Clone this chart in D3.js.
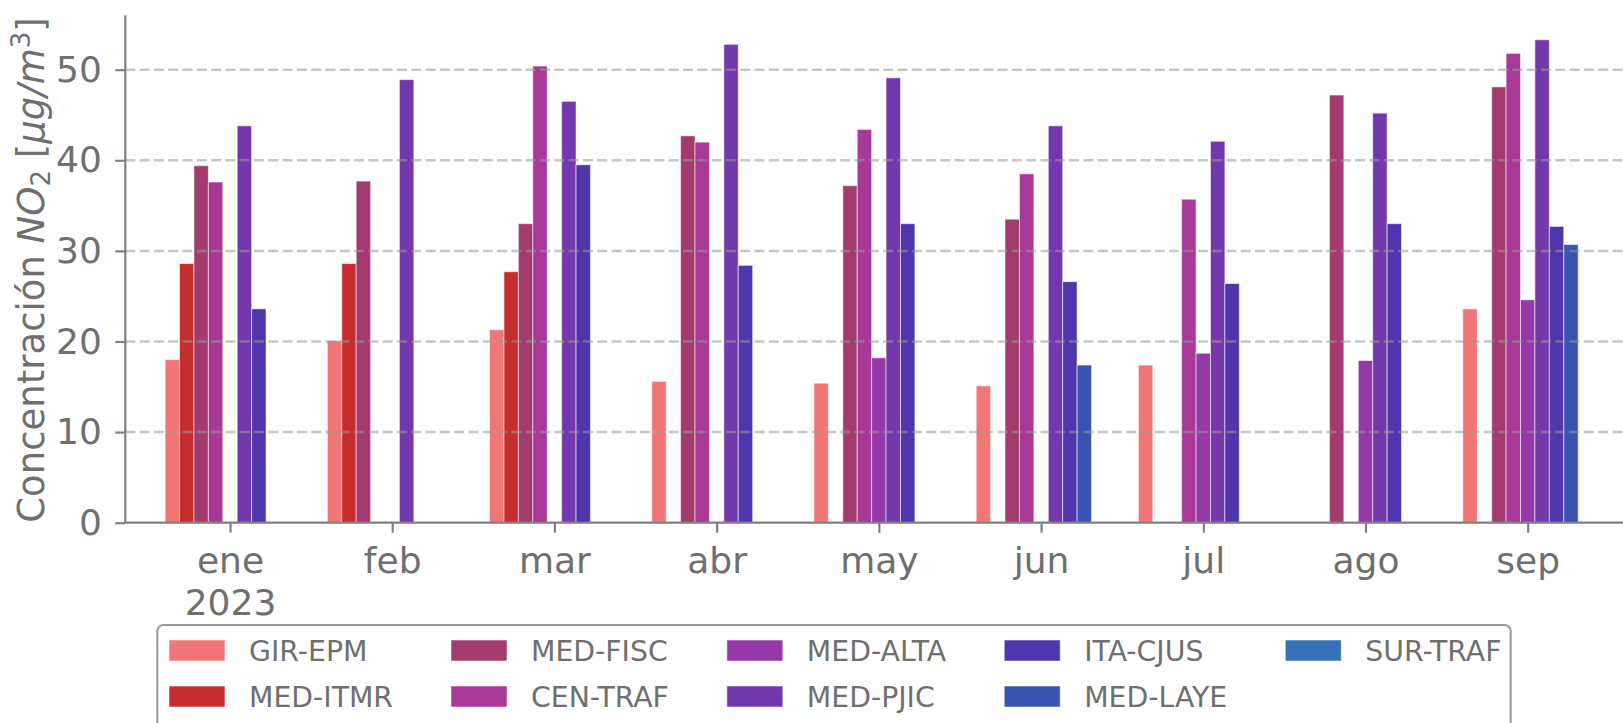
<!DOCTYPE html>
<html>
<head>
<meta charset="utf-8">
<script src="https://cdn.jsdelivr.net/npm/d3@7"></script>
<style>
  html, body { margin: 0; padding: 0; background: #ffffff; }
  svg { display: block; }
  text { font-family: "DejaVu Sans", sans-serif; }
</style>
</head>
<body>
<svg id="chart" width="1623" height="723"></svg>
<script>
// ---- data ----
const months = ["ene", "feb", "mar", "abr", "may", "jun", "jul", "ago", "sep"];
const yearLabel = "2023";
const seriesNames = ["GIR-EPM", "MED-ITMR", "MED-FISC", "CEN-TRAF", "MED-ALTA", "MED-PJIC", "ITA-CJUS", "MED-LAYE", "SUR-TRAF"];
const seriesColors = ["#f37676", "#c62d2e", "#a33b6f", "#a93997", "#9638a8", "#7338ab", "#4f36ac", "#3954b0", "#3471b8"];
const girEpm  = [18.0, 20.1, 21.3, 15.6, 15.4, 15.1, 17.4, null, 23.6];
const medItmr = [28.6, 28.6, 27.7, null, null, null, null, null, null];
const medFisc = [39.4, 37.7, 33.0, 42.7, 37.2, 33.5, null, 47.2, 48.1];
const cenTraf = [37.6, null, 50.4, 42.0, 43.4, 38.5, 35.7, null, 51.8];
const medAlta = [null, null, null, null, 18.2, null, 18.7, 17.9, 24.6];
const medPjic = [43.8, 48.9, 46.5, 52.8, 49.1, 43.8, 42.1, 45.2, 53.3];
const itaCjus = [23.6, null, 39.5, 28.4, 33.0, 26.6, 26.4, 33.0, 32.7];
const medLaye = [null, null, null, null, null, 17.4, null, null, 30.7];
const surTraf = [null, null, null, null, null, null, null, null, null];
const yTicks = [0, 10, 20, 30, 40, 50];
const yMax = 56;

const seriesValues = [girEpm, medItmr, medFisc, cenTraf, medAlta, medPjic, itaCjus, medLaye, surTraf];

// ---- layout ----
const W = 1623, H = 723;
const axisX = 125.3, y0px = 522.7, yTopPx = 15.3;
const firstCenter = 230, lastCenter = 1527.7;
const textColor = "#6f6f6f";
const spineColor = "#808080";

const svg = d3.select("#chart");

const y = d3.scaleLinear().domain([0, yMax]).range([y0px, yTopPx]);
const xMonth = d3.scalePoint().domain(months).range([firstCenter, lastCenter]);
const step = xMonth.step();
const groupW = step * 0.8;
const xSeries = d3.scaleBand().domain(seriesNames).range([-groupW / 2, groupW / 2]).padding(0);

// bars
const barData = [];
seriesNames.forEach((s, si) => {
  seriesValues[si].forEach((v, mi) => {
    if (v !== null && v !== undefined) barData.push({ s, si, m: months[mi], v });
  });
});
svg.append("g").selectAll("rect").data(barData).join("rect")
  .attr("x", d => xMonth(d.m) + xSeries(d.s))
  .attr("y", d => y(d.v))
  .attr("width", xSeries.bandwidth())
  .attr("height", d => y(0) - y(d.v))
  .attr("fill", d => seriesColors[d.si])
  .attr("stroke", "rgba(255,255,255,0.55)")
  .attr("stroke-width", 1);

// gridlines (on top)
svg.append("g").selectAll("line").data(yTicks.filter(t => t > 0)).join("line")
  .attr("x1", axisX).attr("x2", W)
  .attr("y1", d => y(d)).attr("y2", d => y(d))
  .attr("stroke", "#999999").attr("stroke-opacity", 0.55)
  .attr("stroke-width", 2.5).attr("stroke-dasharray", "10,4.3");

// y axis
const yAxis = d3.axisLeft(y).tickValues(yTicks).tickSize(10).tickPadding(13.5).tickFormat(d3.format("d"));
const gy = svg.append("g").attr("transform", `translate(${axisX},0)`).call(yAxis);
gy.select(".domain").remove();
gy.selectAll(".tick line").attr("stroke", spineColor).attr("stroke-width", 2.2);
gy.selectAll(".tick text").attr("fill", textColor).attr("font-size", 36)
  .attr("font-family", "DejaVu Sans");
svg.append("line").attr("x1", axisX).attr("x2", axisX).attr("y1", yTopPx).attr("y2", y0px)
  .attr("stroke", spineColor).attr("stroke-width", 2.2);

// x axis
const xAxis = d3.axisBottom(xMonth).tickSize(10).tickPadding(14);
const gx = svg.append("g").attr("transform", `translate(0,${y0px})`).call(xAxis);
gx.select(".domain").remove();
gx.selectAll(".tick line").attr("stroke", spineColor).attr("stroke-width", 2.2);
gx.selectAll(".tick text").attr("fill", textColor).attr("font-size", 36)
  .attr("font-family", "DejaVu Sans").attr("dy", null).attr("y", 50.5);
gx.selectAll(".tick").filter((d, i) => i === 0).append("text")
  .attr("fill", textColor).attr("font-size", 36).attr("font-family", "DejaVu Sans")
  .attr("text-anchor", "middle").attr("y", 92.5).text(yearLabel);
svg.append("line").attr("x1", axisX - 1.1).attr("x2", W).attr("y1", y0px).attr("y2", y0px)
  .attr("stroke", spineColor).attr("stroke-width", 2.2);

// y label
const yl = svg.append("text")
  .attr("transform", `translate(43.5,${(yTopPx + y0px) / 2 + 1}) rotate(-90)`)
  .attr("text-anchor", "middle").attr("fill", textColor).attr("font-size", 37);
yl.append("tspan").text("Concentración ");
yl.append("tspan").attr("font-style", "italic").text("NO");
yl.append("tspan").attr("font-size", 26).attr("dy", 6).text("2");
yl.append("tspan").attr("dy", -6).text(" [");
yl.append("tspan").attr("font-style", "italic").text("μg/m");
yl.append("tspan").attr("font-size", 26).attr("dy", -14).text("3");
yl.append("tspan").attr("dy", 14).text("]");

// legend
const legX = 157.3, legY = 625, legR = 1510.7;
const legend = svg.append("g");
legend.append("rect").attr("x", legX).attr("y", legY).attr("width", legR - legX).attr("height", 120)
  .attr("rx", 6).attr("ry", 6).attr("fill", "#ffffff").attr("stroke", "#9a9a9a").attr("stroke-width", 2);
const nCols = 5, nRows = 2;
const handleW = 56, handleH = 21, textPad = 24, colSpacing = 58;
const rowCenters = [650.5, 696.5];
let colX = 169;
for (let c = 0; c < nCols; c++) {
  let maxW = 0;
  for (let r = 0; r < nRows; r++) {
    const idx = c * nRows + r;
    if (idx >= seriesNames.length) continue;
    const g = legend.append("g");
    g.append("rect").attr("x", colX).attr("y", rowCenters[r] - handleH / 2)
      .attr("width", handleW).attr("height", handleH).attr("fill", seriesColors[idx])
      .attr("stroke", "rgba(255,255,255,0.55)").attr("stroke-width", 1);
    const t = g.append("text").attr("x", colX + handleW + textPad).attr("y", rowCenters[r] + 10)
      .attr("fill", textColor).attr("font-size", 28.3).text(seriesNames[idx]);
    maxW = Math.max(maxW, t.node().getComputedTextLength());
  }
  colX = colX + handleW + textPad + maxW + colSpacing;
}
</script>
</body>
</html>
